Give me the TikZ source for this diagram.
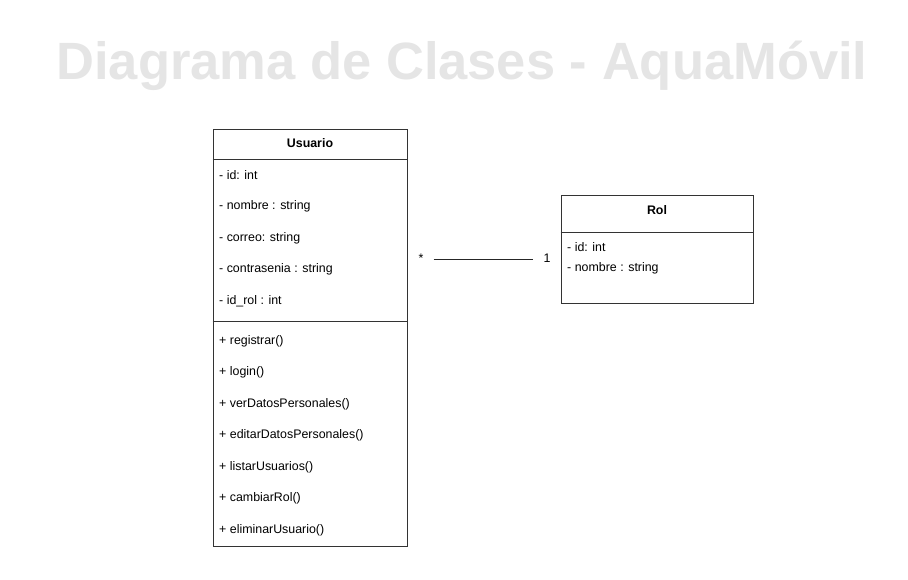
\documentclass[tikz,border=0pt]{standalone}
\usepackage{fontspec}
\setmainfont{Liberation Sans}
\usetikzlibrary{positioning}
\usetikzlibrary{calc}

\begin{document}
\begin{tikzpicture}[x=1pt,y=-1pt,
  classbox/.style={draw=black!80, line width=0.9pt, inner sep=0pt},
  member/.style={anchor=west, inner sep=0pt, font=\fontsize{12.4}{14}\selectfont},
  classname/.style={inner sep=0pt, font=\bfseries\fontsize{12.4}{14}\selectfont},
  mult/.style={inner sep=10pt, text height=8pt, text depth=0pt, font=\fontsize{12.4}{14}\selectfont}]
\useasboundingbox (0,0) rectangle (908,580);
\newcommand{\RowGap}{31.5}

\node[text=black!10, font=\bfseries\fontsize{52.5}{60}\selectfont] (title) at (462,66) {Diagrama de Clases - AquaMóvil};

% Usuario
\node[classbox, minimum width=194pt, minimum height=417pt] (usuario) at (310,337.5) {};
\draw[black!80, line width=0.9pt] ($(usuario.north west)+(0,31)$) -- ($(usuario.north east)+(0,31)$);% header
\draw[black!80, line width=0.9pt] ($(usuario.north west)+(0,193)$) -- ($(usuario.north east)+(0,193)$);% attrs / methods
\node[classname] (usuario-name) at (310,143.5) {Usuario};
\foreach \txt [count=\i from 0] in {- id: int, - nombre : string, - correo: string, - contrasenia : string, - id\_rol : int}
  \node[member] (usuario-attr-\i) at (219,175+\i*\RowGap) {\txt};
\foreach \txt [count=\i from 0] in {+ registrar(), + login(), + verDatosPersonales(), + editarDatosPersonales(), + listarUsuarios(), + cambiarRol(), + eliminarUsuario()}
  \node[member] (usuario-op-\i) at (219,341+\i*\RowGap) {\txt};

% Rol
\node[classbox, minimum width=192pt, minimum height=108pt] (rol) at (657,249) {};
\draw[black!80, line width=0.9pt] ($(rol.north west)+(0,37.5)$) -- ($(rol.north east)+(0,37.5)$);% header
\node[classname] (rol-name) at (657,210.5) {Rol};
\node[member] (rol-attr-0) at (567,247) {- id: int};
\node[member] (rol-attr-1) at (567,268) {- nombre : string};

% association
\node[mult] (mult-usuario) at (421,259) {*};
\node[mult] (mult-rol) at (547,259) {1};
\draw[black!85, line width=0.9pt] (mult-usuario.east) -- (mult-rol.west);
\end{tikzpicture}
\end{document}
